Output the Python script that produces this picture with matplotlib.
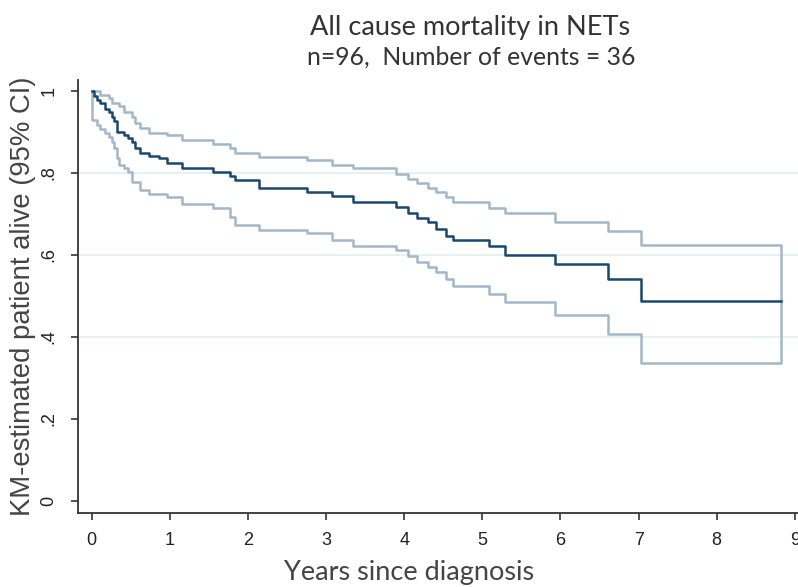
import matplotlib.pyplot as plt

# KM estimate with 95% CI, all cause mortality in NETs
times = [0, 0.03, 0.07, 0.11, 0.17, 0.22, 0.26, 0.28, 0.32, 0.35, 0.41, 0.47,
         0.52, 0.56, 0.62, 0.74, 0.86, 0.96, 1.16, 1.55, 1.77, 1.83, 2.14,
         2.75, 3.07, 3.34, 3.89, 4.05, 4.16, 4.31, 4.41, 4.54, 4.63, 5.08,
         5.29, 5.93, 6.61, 7.03, 8.82]
survival = [1.0, 0.988, 0.978, 0.970, 0.955, 0.949, 0.937, 0.925, 0.900, 0.900,
            0.892, 0.884, 0.876, 0.860, 0.849, 0.841, 0.835, 0.823, 0.811,
            0.802, 0.792, 0.782, 0.764, 0.754, 0.743, 0.729, 0.717, 0.701,
            0.689, 0.680, 0.664, 0.647, 0.637, 0.621, 0.600, 0.578, 0.541,
            0.488, 0.488]
upper = [1.0, 1.0, 1.0, 0.990, 0.990, 0.982, 0.970, 0.970, 0.970, 0.962, 0.949,
         0.949, 0.937, 0.921, 0.909, 0.898, 0.898, 0.892, 0.880, 0.870, 0.860,
         0.847, 0.838, 0.831, 0.819, 0.811, 0.797, 0.784, 0.774, 0.764, 0.753,
         0.741, 0.728, 0.715, 0.702, 0.680, 0.658, 0.625, 0.625]
lower = [0.929, 0.929, 0.917, 0.906, 0.896, 0.888, 0.876, 0.860, 0.835, 0.819,
         0.811, 0.802, 0.778, 0.778, 0.758, 0.748, 0.748, 0.741, 0.725, 0.715,
         0.692, 0.672, 0.661, 0.652, 0.635, 0.621, 0.612, 0.596, 0.582, 0.570,
         0.558, 0.541, 0.523, 0.505, 0.484, 0.453, 0.407, 0.337, 0.337]

xticks = list(range(0, 10))
yticks = [0, 0.2, 0.4, 0.6, 0.8, 1.0]
ytick_labels = ['0', '.2', '.4', '.6', '.8', '1']

fig = plt.figure(figsize=(7.98, 5.87), dpi=100)
ax = fig.add_axes([0.0977, 0.1261, 0.9023, 0.7376])

for y in [0.4, 0.6, 0.8]:
    ax.axhline(y, color='#e2eff0', linewidth=1.2, zorder=0)

ax.fill_between(times, lower, upper, step='post', facecolor='none',
                edgecolor='#a3b6ca', linewidth=1.8, zorder=2)
ax.step(times, survival, where='post', color='#1a476f', linewidth=1.8, zorder=3)

ax.set_xlim(-0.175, 9.04)
ax.set_ylim(-0.0293, 1.026)

ax.set_xticks(xticks)
ax.set_xticklabels([str(t) for t in xticks], fontsize=13, family='Liberation Sans')
ax.set_yticks(yticks)
ax.set_yticklabels(ytick_labels, fontsize=13, family='Liberation Sans',
                   rotation=90, va='center')

ax.tick_params(direction='out', length=5, width=1.2, color='#333333',
               labelcolor='#222222')
ax.tick_params(axis='x', pad=9)
ax.tick_params(axis='y', pad=10)

for s in ['top', 'right']:
    ax.spines[s].set_visible(False)
for s in ['left', 'bottom']:
    ax.spines[s].set_color('#333333')
    ax.spines[s].set_linewidth(1.3)

ax.set_ylabel('KM-estimated patient alive (95% CI)', fontsize=19.8,
              family='Liberation Sans', color='#444444')
ax.yaxis.set_label_coords(-0.0764, 0.5)
ax.set_xlabel('Years since diagnosis', fontsize=19.5, family='Lato', color='#444444')
ax.xaxis.set_label_coords(0.4604, -0.1386)
ax.xaxis.label.set_va('center')
ax.yaxis.label.set_va('center')

fig.text(470 / 798, 1 - 27 / 587, 'All cause mortality in NETs', ha='center',
         va='center', fontsize=19.5, family='Lato', color='#333333')
fig.text(471 / 798, 1 - 57 / 587, 'n=96,  Number of events = 36', ha='center',
         va='center', fontsize=17.8, family='Lato', color='#333333')

fig.savefig('out.png', dpi=100)
